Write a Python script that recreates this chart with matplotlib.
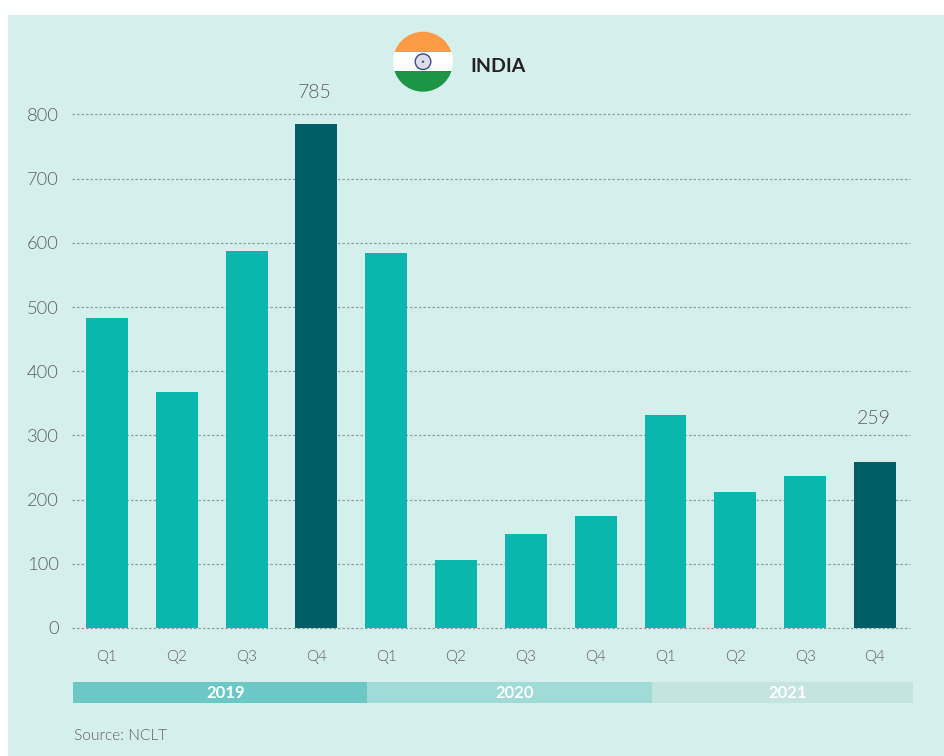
import numpy as np
import matplotlib
matplotlib.use('Agg')
import matplotlib.pyplot as plt
from matplotlib.patches import Circle, Rectangle

plt.rcParams['font.family'] = ['Lato', 'DejaVu Sans']

W, H = 944, 756

# data
quarters = ['Q1', 'Q2', 'Q3', 'Q4'] * 3
values = [483, 368, 587, 785, 584, 106, 147, 175, 332, 212, 237, 259]
highlight = [3, 11]
label_offset = {3: 22.5, 11: 31}  # points above the bar
yticks = [0, 100, 200, 300, 400, 500, 600, 700, 800]
years = ['2019', '2020', '2021']
year_edges = [-0.49, 3.725, 7.807, 11.545]
year_colors = ['#6cc8c4', '#a0dbd8', '#c3e4e1']

bg = '#d5efed'
bar_col = '#0ab7ae'
dark_col = '#005f66'
txt_col = '#5c5f5f'
thin = 300

fig = plt.figure(figsize=(W/100, H/100), dpi=100, facecolor='white')

# page layer in pixels
page = fig.add_axes([0, 0, 1, 1])
page.set_xlim(0, W)
page.set_ylim(H, 0)
page.axis('off')
page.add_patch(Rectangle((8, 15), W-8, H-15, fc=bg, ec='none'))

# flag
cx, cy, r = 423, 61.7, 30
clip = Circle((cx, cy), r, transform=page.transData)
for y0, h, c in [(31, 20.7, '#fd9b45'), (51.7, 19.5, '#ffffff'), (71.2, 21, '#1e9445')]:
    p = page.add_patch(Rectangle((cx-r, y0), 2*r, h, fc=c, ec='none'))
    p.set_clip_path(clip)
page.add_patch(Circle((cx, cy), 7.8, fc='#dcdeea', ec='#3d4a8c', lw=1))
page.add_patch(Circle((cx, cy), 1.2, fc='#3d4a8c', ec='none'))
page.text(470.5, 66, 'INDIA', fontsize=14, fontweight='bold', color='#222222',
          va='center', ha='left')
page.text(73.5, 736, 'Source: NCLT', fontsize=11.2, fontweight=thin, color=txt_col,
          va='center', ha='left')

# main chart
x_left, x_right, y_top, y_bot = 72, 913, 114.4, 628
ax = fig.add_axes([x_left/W, 1-y_bot/H, (x_right-x_left)/W, (y_bot-y_top)/H])
ax.patch.set_alpha(0)
x = np.arange(len(values))
ax.set_xlim(-0.5, 11.545)
ax.set_ylim(0, 800)
cols = [dark_col if i in highlight else bar_col for i in x]
ax.bar(x, values, width=0.6, color=cols, zorder=3)
for s in ax.spines.values():
    s.set_visible(False)
ax.set_yticks(yticks)
ax.hlines(yticks, -0.5, 11.5, color='#8f9f9d', lw=0.9, ls=(0, (2, 1.6)), zorder=1, clip_on=False)
ax.tick_params(axis='y', length=0, pad=9.4, labelsize=13.2, labelcolor=txt_col)
ax.set_xticks(x)
ax.set_xticklabels(quarters)
ax.tick_params(axis='x', length=0, pad=16, labelsize=11, labelcolor=txt_col)
for lab in ax.get_xticklabels() + ax.get_yticklabels():
    lab.set_fontweight(thin)
for i in highlight:
    ax.annotate(str(values[i]), (x[i], values[i]), xytext=(-1, label_offset[i]),
                textcoords='offset points', ha='center', va='center', fontsize=14,
                fontweight=thin, color=txt_col, clip_on=False)

# year strip, same x scale as the bars
band = fig.add_axes([x_left/W, 1-703/H, (x_right-x_left)/W, 21/H])
band.set_xlim(-0.5, 11.545)
band.set_ylim(0, 1)
band.axis('off')
for i, yr in enumerate(years):
    band.barh(0.5, year_edges[i+1]-year_edges[i], left=year_edges[i], height=1,
              color=year_colors[i], lw=0)
    band.text((year_edges[i]+year_edges[i+1])/2 + 0.08, 0.47, yr, color='white', fontsize=12,
              fontweight='bold', ha='center', va='center')

fig.savefig('out.png', dpi=100, facecolor='white')
